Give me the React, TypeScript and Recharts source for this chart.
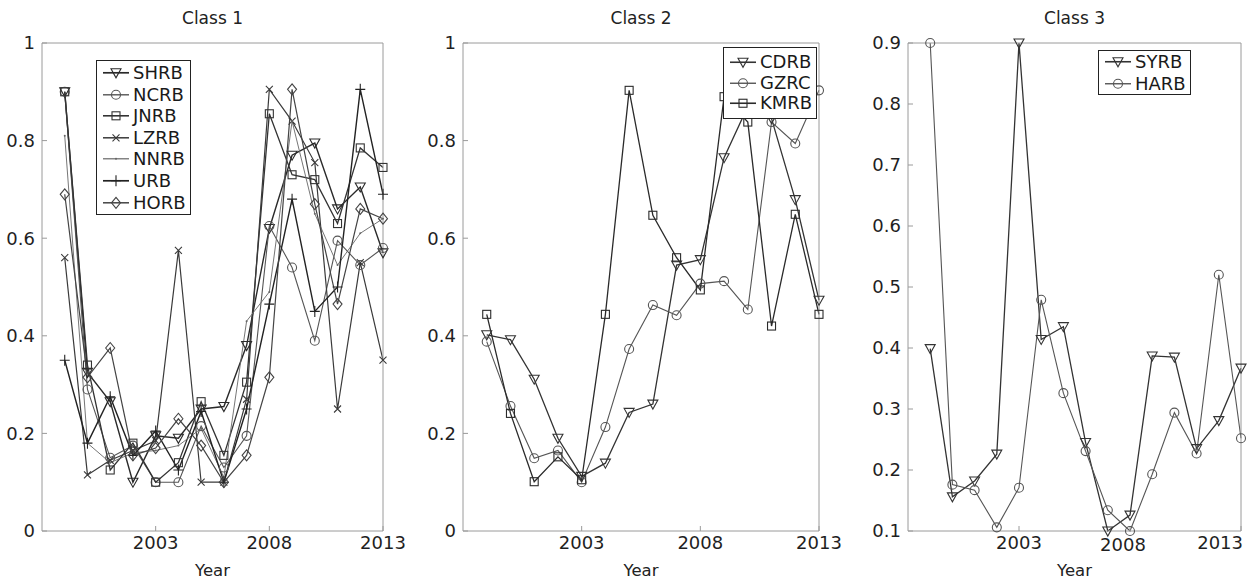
import React from 'react';
import { LineChart, Line, XAxis, YAxis, Legend } from 'recharts';

const FONT = '"DejaVu Sans", sans-serif';
const AXIS = '#9a9a9a';

const years = [1999, 2000, 2001, 2002, 2003, 2004, 2005, 2006, 2007, 2008, 2009, 2010, 2011, 2012, 2013];
const xTicks = [2003, 2008, 2013];

// class 1
const SHRB = [0.9, 0.325, 0.265, 0.1, 0.195, 0.19, 0.25, 0.255, 0.38, 0.62, 0.77, 0.795, 0.66, 0.705, 0.57];
const NCRB = [0.9, 0.29, 0.15, 0.175, 0.1, 0.1, 0.215, 0.13, 0.195, 0.625, 0.54, 0.39, 0.595, 0.545, 0.58];
const JNRB = [0.9, 0.34, 0.125, 0.18, 0.1, 0.14, 0.265, 0.155, 0.305, 0.855, 0.73, 0.72, 0.63, 0.785, 0.745];
const LZRB = [0.56, 0.115, 0.145, 0.165, 0.185, 0.575, 0.1, 0.1, 0.27, 0.905, 0.84, 0.755, 0.25, 0.55, 0.35];
const NNRB = [0.81, 0.18, 0.14, 0.16, 0.165, 0.175, 0.21, 0.11, 0.43, 0.49, 0.84, 0.65, 0.545, 0.61, 0.64];
const URB = [0.35, 0.18, 0.275, 0.155, 0.205, 0.125, 0.245, 0.1, 0.25, 0.465, 0.68, 0.45, 0.5, 0.905, 0.69];
const HORB = [0.69, 0.315, 0.375, 0.155, 0.17, 0.23, 0.175, 0.1, 0.155, 0.315, 0.905, 0.67, 0.465, 0.66, 0.64];

// class 2
const CDRB = [0.402, 0.392, 0.311, 0.19, 0.112, 0.139, 0.243, 0.26, 0.545, 0.556, 0.765, 0.87, 0.845, 0.679, 0.473];
const GZRC = [0.388, 0.256, 0.149, 0.165, 0.1, 0.213, 0.373, 0.463, 0.442, 0.507, 0.512, 0.454, 0.838, 0.794, 0.903];
const KMRB = [0.444, 0.241, 0.101, 0.152, 0.105, 0.444, 0.903, 0.647, 0.56, 0.494, 0.89, 0.838, 0.42, 0.649, 0.444];

// class 3
const SYRB = [0.399, 0.156, 0.182, 0.226, 0.9, 0.414, 0.435, 0.245, 0.1, 0.126, 0.387, 0.385, 0.235, 0.281, 0.367];
const HARB = [0.9, 0.176, 0.167, 0.106, 0.171, 0.479, 0.326, 0.231, 0.134, 0.1, 0.193, 0.294, 0.227, 0.52, 0.252];

const yTicks01 = [0, 0.2, 0.4, 0.6, 0.8, 1];
const yTicks3 = [0.1, 0.2, 0.3, 0.4, 0.5, 0.6, 0.7, 0.8, 0.9];

type Shape = 'tri' | 'circle' | 'square' | 'x' | 'point' | 'plus' | 'diamond';
type Series = { name: string; values: number[]; shape: Shape; color: string; width: number };

const class1: Series[] = [
  { name: 'SHRB', values: SHRB, shape: 'tri', color: '#2a2a2a', width: 1.4 },
  { name: 'NCRB', values: NCRB, shape: 'circle', color: '#555', width: 1.1 },
  { name: 'JNRB', values: JNRB, shape: 'square', color: '#333', width: 1.3 },
  { name: 'LZRB', values: LZRB, shape: 'x', color: '#3a3a3a', width: 1.2 },
  { name: 'NNRB', values: NNRB, shape: 'point', color: '#666', width: 0.9 },
  { name: 'URB', values: URB, shape: 'plus', color: '#222', width: 1.4 },
  { name: 'HORB', values: HORB, shape: 'diamond', color: '#444', width: 1.2 },
];
const class2: Series[] = [
  { name: 'CDRB', values: CDRB, shape: 'tri', color: '#333', width: 1.3 },
  { name: 'GZRC', values: GZRC, shape: 'circle', color: '#555', width: 1.1 },
  { name: 'KMRB', values: KMRB, shape: 'square', color: '#2a2a2a', width: 1.3 },
];
const class3: Series[] = [
  { name: 'SYRB', values: SYRB, shape: 'tri', color: '#333', width: 1.3 },
  { name: 'HARB', values: HARB, shape: 'circle', color: '#555', width: 1.1 },
];

const Marker = ({ shape, cx, cy, color }: { shape: Shape; cx: number; cy: number; color: string }) => {
  const s = { fill: 'none', stroke: color, strokeWidth: 1.1 };
  switch (shape) {
    case 'tri':
      return <polygon points={`${cx - 5},${cy - 4} ${cx + 5},${cy - 4} ${cx},${cy + 5}`} {...s} />;
    case 'circle':
      return <circle cx={cx} cy={cy} r={4.5} {...s} />;
    case 'square':
      return <rect x={cx - 4} y={cy - 4} width={8} height={8} {...s} />;
    case 'x':
      return <path d={`M${cx - 3.5},${cy - 3.5}L${cx + 3.5},${cy + 3.5}M${cx - 3.5},${cy + 3.5}L${cx + 3.5},${cy - 3.5}`} {...s} />;
    case 'point':
      return <circle cx={cx} cy={cy} r={1} fill={color} />;
    case 'plus':
      return <path d={`M${cx - 5},${cy}L${cx + 5},${cy}M${cx},${cy - 5.5}L${cx},${cy + 5.5}`} {...s} />;
    case 'diamond':
      return <polygon points={`${cx},${cy - 5.5} ${cx + 4.5},${cy} ${cx},${cy + 5.5} ${cx - 4.5},${cy}`} {...s} />;
  }
  return null;
};

const LegendBox = ({ series, rowH, pad }: { series: Series[]; rowH: number; pad: number }) => (
  <div style={{ background: '#fff', border: '1px solid #222', padding: `${pad}px 4px ${pad}px 4px`, fontFamily: FONT, fontSize: 18, color: '#1a1a1a' }}>
    {series.map((s) => (
      <div key={s.name} style={{ display: 'flex', alignItems: 'center', height: rowH, lineHeight: `${rowH}px` }}>
        <svg width={30} height={rowH} style={{ flex: 'none' }}>
          <line x1={2} x2={28} y1={rowH / 2} y2={rowH / 2} stroke={s.color} strokeWidth={s.width + 0.3} />
          <Marker shape={s.shape} cx={15} cy={rowH / 2} color={s.color} />
        </svg>
        <span style={{ marginLeft: 2 }}>{s.name}</span>
      </div>
    ))}
  </div>
);

type PanelProps = {
  left: number;
  width: number;
  title: string;
  series: Series[];
  margin: { top: number; right: number; bottom: number; left: number };
  yDomain: [number, number];
  yTicks: number[];
  legendPos: { left: number; top: number };
  rowH: number;
  pad: number;
  edgeLast?: boolean;
};

const Panel = ({ left, width, title, series, margin, yDomain, yTicks, legendPos, rowH, pad, edgeLast }: PanelProps) => {
  const data = years.map((y, i) => {
    const row: Record<string, number> = { year: y };
    series.forEach((s) => (row[s.name] = s.values[i]));
    return row;
  });
  const W = width;
  const H = 579;
  // axes take 1px each, so the chart margins are one less than the plot edges
  const m = { top: margin.top - 1, right: margin.right - 1, bottom: margin.bottom - 1, left: margin.left - 1 };
  const plotW = W - margin.left - margin.right;
  const tickStyle = { fontSize: 18, fill: '#1f1f1f', fontFamily: FONT };
  const xTick = (p: any) => {
    const v = p.payload.value;
    const last = edgeLast && v === 2013;
    const nudge = edgeLast && v === 2008 ? -7 : 0;
    return (
      <text x={last ? p.x + 2 : p.x + nudge} y={p.y + (nudge ? 2 : 0)} dy="0.71em" textAnchor={last ? 'end' : 'middle'} {...tickStyle}>
        {v}
      </text>
    );
  };
  return (
    <div style={{ position: 'absolute', left, top: 0, width: W, height: H }}>
      <div style={{ position: 'absolute', left: margin.left, width: plotW, top: 8, textAlign: 'center', fontFamily: FONT, fontSize: 17, lineHeight: '20px', color: '#222' }}>
        {title}
      </div>
      <div style={{ position: 'absolute', left: margin.left, width: plotW, top: 561, textAlign: 'center', fontFamily: FONT, fontSize: 16.5, lineHeight: '20px', color: '#222' }}>
        Year
      </div>
      <LineChart width={W} height={H} data={data} margin={m}>
        <XAxis
          dataKey="year"
          type="number"
          domain={[1998, 2013]}
          ticks={xTicks}
          interval={0}
          height={1}
          tickSize={-5}
          tickMargin={10}
          stroke={AXIS}
          tickLine={{ stroke: AXIS }}
          tick={xTick}
        />
        <XAxis xAxisId="top" orientation="top" type="number" domain={[1998, 2013]} ticks={xTicks} interval={0} height={1} tickSize={-5} tick={false} stroke={AXIS} />
        <YAxis
          type="number"
          domain={yDomain}
          ticks={yTicks}
          interval={0}
          width={1}
          tickSize={-5}
          tickMargin={12}
          stroke={AXIS}
          tick={tickStyle}
          tickFormatter={(v: number) => String(v)}
        />
        <YAxis yAxisId="right" orientation="right" type="number" domain={yDomain} ticks={yTicks} interval={0} width={1} tickSize={-5} tick={false} stroke={AXIS} />
        {series.map((s) => (
          <Line
            key={s.name}
            dataKey={s.name}
            name={s.name}
            type="linear"
            stroke={s.color}
            strokeWidth={s.width}
            isAnimationActive={false}
            dot={(p: any) => <Marker key={`${s.name}-${p.index}`} shape={s.shape} cx={p.cx} cy={p.cy} color={s.color} />}
            activeDot={false}
          />
        ))}
        <Legend
          layout="horizontal"
          verticalAlign="middle"
          align="center"
          wrapperStyle={{ left: legendPos.left, top: legendPos.top, width: 'auto', height: 'auto' }}
          content={() => <LegendBox series={series} rowH={rowH} pad={pad} />}
        />
      </LineChart>
    </div>
  );
};

export default function App() {
  return (
    <div style={{ position: 'absolute', left: 0, top: 0, width: 1248, height: 579, background: '#fff' }}>
      <Panel
        left={0}
        width={416}
        title="Class 1"
        series={class1}
        margin={{ top: 43, right: 33, bottom: 48, left: 42 }}
        yDomain={[0, 1]}
        yTicks={yTicks01}
        legendPos={{ left: 96, top: 60 }}
        rowH={21.6}
        pad={1}
      />
      <Panel
        left={416}
        width={440}
        title="Class 2"
        series={class2}
        margin={{ top: 43, right: 37, bottom: 48, left: 47 }}
        yDomain={[0, 1]}
        yTicks={yTicks01}
        legendPos={{ left: 307, top: 47 }}
        rowH={20.5}
        pad={4}
      />
      <Panel
        left={832}
        width={416}
        title="Class 3"
        series={class3}
        margin={{ top: 43, right: 7, bottom: 48, left: 76 }}
        yDomain={[0.1, 0.9]}
        yTicks={yTicks3}
        legendPos={{ left: 266, top: 50 }}
        rowH={21.5}
        pad={0}
        edgeLast
      />
    </div>
  );
}
